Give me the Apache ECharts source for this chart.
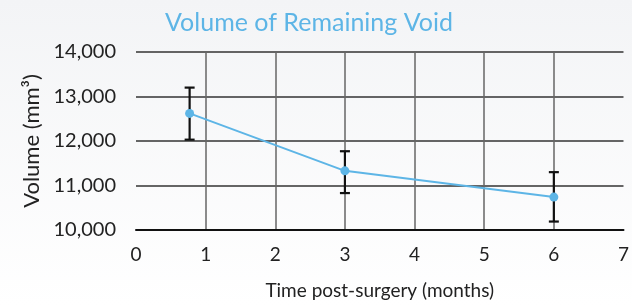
<!DOCTYPE html>
<html>
<head>
<meta charset="utf-8">
<script src="https://cdn.jsdelivr.net/npm/echarts@6/dist/echarts.min.js"></script>
<style>
  html, body { margin: 0; padding: 0; }
  #chart { width: 632px; height: 306px; }
</style>
</head>
<body>
<div id="chart"></div>
<script>
// months after surgery
var months = [0.77, 3, 6];
var volume = [12620, 11330, 10740];
var errLow = [12030, 10830, 10190];
var errHigh = [13200, 11770, 11300];

var blue = "#5db5e6";
var fontFam = "Lato, 'Open Sans', sans-serif";

var lineData = months.map(function (m, i) { return [m, volume[i]]; });
var barData = months.map(function (m, i) { return [m, errLow[i], errHigh[i]]; });

var chart = echarts.init(document.getElementById("chart"));
chart.setOption({
  backgroundColor: new echarts.graphic.LinearGradient(0, 0, 0, 1, [
    { offset: 0, color: "#f3f4f6" },
    { offset: 1, color: "#ffffff" }
  ]),
  textStyle: { fontFamily: fontFam },
  title: {
    text: "Volume of Remaining Void",
    left: 304,
    textAlign: "center",
    top: 5,
    textStyle: { color: blue, fontSize: 25, fontWeight: "normal", fontFamily: fontFam }
  },
  grid: { left: 136, right: 4, top: 52, bottom: 76 },
  xAxis: {
    type: "value",
    min: 0,
    max: 7,
    interval: 1,
    name: "Time post-surgery (months)",
    nameLocation: "middle",
    nameGap: 51,
    nameTextStyle: { color: "#222", fontSize: 19, fontFamily: fontFam },
    axisLine: { show: true, lineStyle: { color: "#111", width: 2 } },
    axisTick: { show: false },
    axisLabel: { color: "#222", fontSize: 19, margin: 15, fontFamily: fontFam },
    splitLine: {
      show: true,
      lineStyle: {
        color: ["rgba(0,0,0,0)", "#666", "#666", "#666", "#666", "#666", "#666", "rgba(0,0,0,0)"],
        width: 1.5
      }
    }
  },
  yAxis: {
    type: "value",
    min: 10000,
    max: 14000,
    interval: 1000,
    name: "Volume (mm³)",
    nameLocation: "middle",
    nameGap: 92,
    nameTextStyle: { color: "#222", fontSize: 22, fontFamily: fontFam },
    axisLine: { show: false },
    axisTick: { show: false },
    axisLabel: {
      color: "#222",
      fontSize: 20,
      margin: 20,
      fontFamily: fontFam,
      formatter: function (v) { return v.toLocaleString("en-US"); }
    },
    splitLine: { show: true, lineStyle: { color: "#333", width: 1.5 } }
  },
  series: [
    {
      type: "custom",
      data: barData,
      z: 3,
      renderItem: function (params, api) {
        var x = api.value(0);
        var lo = api.coord([x, api.value(1)]);
        var hi = api.coord([x, api.value(2)]);
        var half = 5;
        var st = { stroke: "#111", lineWidth: 2.2 };
        return {
          type: "group",
          children: [
            { type: "line", shape: { x1: hi[0], y1: hi[1], x2: lo[0], y2: lo[1] }, style: st },
            { type: "line", shape: { x1: hi[0] - half, y1: hi[1], x2: hi[0] + half, y2: hi[1] }, style: st },
            { type: "line", shape: { x1: lo[0] - half, y1: lo[1], x2: lo[0] + half, y2: lo[1] }, style: st }
          ]
        };
      }
    },
    {
      type: "line",
      data: lineData,
      z: 4,
      symbol: "circle",
      symbolSize: 9,
      itemStyle: { color: blue },
      lineStyle: { color: blue, width: 2 }
    }
  ]
});
</script>
</body>
</html>
